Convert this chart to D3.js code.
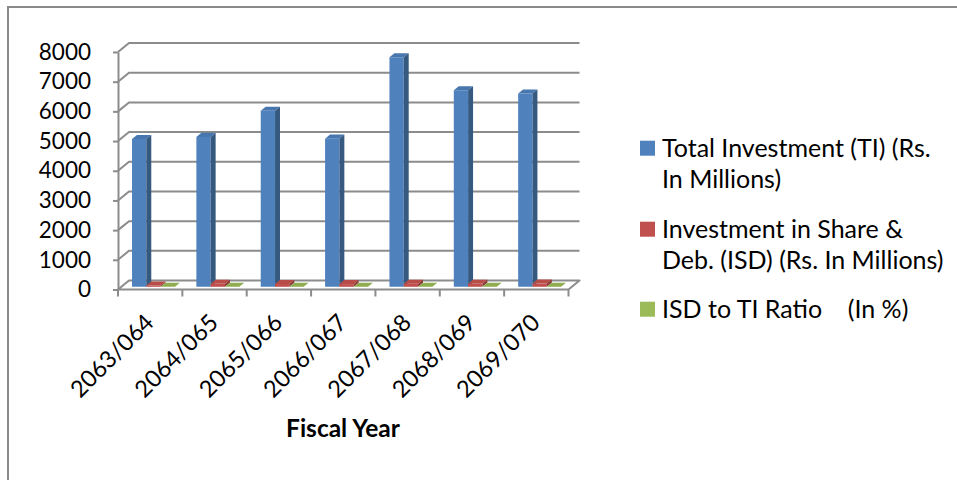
<!DOCTYPE html>
<html>
<head>
<meta charset="utf-8">
<script src="https://cdn.jsdelivr.net/npm/d3@7"></script>
<style>
  html, body { margin: 0; padding: 0; background: #fff; }
  svg { display: block; font-family: Lato, "Open Sans", sans-serif; }
</style>
</head>
<body>
<svg id="chart" width="957" height="480"></svg>
<script>
// Fiscal years (Nepali calendar)
const categories = ["2063/064", "2064/065", "2065/066", "2066/067", "2067/068", "2068/069", "2069/070"];
// Total Investment (TI), Rs. in millions
const totalInvestment = [4980, 5050, 5930, 4990, 7730, 6620, 6510];
// Investment in Share & Debenture (ISD), Rs. in millions
const shareDebInvestment = [45, 100, 95, 90, 105, 100, 110];
// ISD to TI ratio, in %
const isdToTiRatio = [0.9, 2.0, 1.6, 1.8, 1.4, 1.5, 1.7];
const yTickValues = [0, 1000, 2000, 3000, 4000, 5000, 6000, 7000, 8000];

const legendLines = [
  ["Total Investment (TI) (Rs.", "In Millions)"],
  ["Investment in Share &", "Deb. (ISD) (Rs. In Millions)"],
  ["ISD to TI Ratio    (In %)"]
];
const seriesValues = [totalInvestment, shareDebInvestment, isdToTiRatio];
const palette = [
  { front: "#4F81BD", top: "#4877B0", side: "#35597F" },
  { front: "#C0504D", top: "#B84C49", side: "#8A3936" },
  { front: "#9BBB59", top: "#8FAD51", side: "#6E8A3C" }
];

const svg = d3.select("#chart");
const gridColor = "#8c8c8c";

// outer frame (left and top edges)
svg.append("path")
  .attr("d", "M8,480 V7 H957")
  .attr("fill", "none")
  .attr("stroke", "#8a8a8a")
  .attr("stroke-width", 2);

// plot box on the front plane and depth offset towards the back wall
const plot = { left: 118, right: 568.5, bottom: 289.5, top: 52 };
const depth = { dx: 11, dy: -9 };

const x = d3.scaleBand().domain(categories).range([plot.left, plot.right]).padding(0);
const xs = d3.scaleBand().domain([0, 1, 2]).range([0, x.bandwidth()]).paddingInner(0).paddingOuter(0.75);
const y = d3.scaleLinear().domain([0, 8000]).range([plot.bottom, plot.top]);

// project (front-plane x, value, depth fraction) to screen
const P = (xf, v, d) => [xf + d * depth.dx, y(v) + d * depth.dy];
const poly = pts => "M" + pts.map(p => p.join(",")).join("L") + "Z";
const line = pts => "M" + pts.map(p => p.join(",")).join("L");

// back wall + side wall gridlines
const walls = svg.append("g");
walls.selectAll("path.grid")
  .data(yTickValues.filter(v => v > 0))
  .join("path")
  .attr("class", "grid")
  .attr("d", v => line([P(plot.left, v, 0), P(plot.left, v, 1), P(plot.right, v, 1)]))
  .attr("fill", "none")
  .attr("stroke", gridColor)
  .attr("stroke-width", 2);

// floor
walls.append("path")
  .attr("d", poly([P(plot.left, 0, 0), P(plot.right, 0, 0), P(plot.right, 0, 1), P(plot.left, 0, 1)]))
  .attr("fill", "#fff")
  .attr("stroke", gridColor)
  .attr("stroke-width", 2)
  .attr("stroke-linejoin", "round");

// 3D columns
const d0 = 0.3, d1 = 0.75;
const bars = svg.append("g");
categories.forEach((cat, i) => {
  seriesValues.forEach((vals, s) => {
    const v = vals[i];
    const x0 = x(cat) + xs(s);
    const x1 = x0 + xs.bandwidth();
    const g = bars.append("g");
    g.append("path")
      .attr("d", poly([P(x0, 0, d0), P(x0, v, d0), P(x1, v, d0), P(x1, 0, d0)]))
      .attr("fill", palette[s].front);
    g.append("path")
      .attr("d", poly([P(x0, v, d0), P(x1, v, d0), P(x1, v, d1), P(x0, v, d1)]))
      .attr("fill", palette[s].top);
    g.append("path")
      .attr("d", poly([P(x1, 0, d0), P(x1, v, d0), P(x1, v, d1), P(x1, 0, d1)]))
      .attr("fill", palette[s].side);
  });
});

// value axis on the front-left edge
const yAxis = svg.append("g")
  .attr("transform", `translate(${plot.left},0)`)
  .call(d3.axisLeft(y).tickValues(yTickValues).tickFormat(d3.format("d"))
    .tickSize(5).tickSizeOuter(0).tickPadding(22));
yAxis.select(".domain").attr("stroke", gridColor).attr("stroke-width", 2);
yAxis.selectAll(".tick line").attr("stroke", gridColor).attr("stroke-width", 2);
yAxis.selectAll(".tick text")
  .attr("font-size", 22.5)
  .attr("font-family", "Lato, 'Open Sans', sans-serif")
  .attr("fill", "#000");

// category axis: tick marks on band boundaries
const boundaries = d3.range(categories.length + 1).map(k => plot.left + k * x.step());
svg.append("g").selectAll("line")
  .data(boundaries)
  .join("line")
  .attr("x1", d => d).attr("x2", d => d)
  .attr("y1", plot.bottom).attr("y2", plot.bottom + 7)
  .attr("stroke", gridColor)
  .attr("stroke-width", 2);

svg.append("g").selectAll("text")
  .data(categories)
  .join("text")
  .attr("transform", d => `translate(${x(d) + x.bandwidth() / 2 + 5},${plot.bottom + 34.5}) rotate(-45)`)
  .attr("text-anchor", "end")
  .attr("font-size", 23.5)
  .attr("fill", "#000")
  .text(d => d);

svg.append("text")
  .attr("x", 343)
  .attr("y", 437)
  .attr("text-anchor", "middle")
  .attr("font-size", 24.5)
  .attr("font-weight", "bold")
  .attr("fill", "#000")
  .text("Fiscal Year");

// legend
const legendTop = [140.7, 221.7, 301.7];
const legend = svg.append("g");
legendLines.forEach((lines, s) => {
  legend.append("rect")
    .attr("x", 640).attr("y", legendTop[s])
    .attr("width", 15).attr("height", 15)
    .attr("fill", palette[s].front);
  const t = legend.append("text")
    .attr("x", 662)
    .attr("y", legendTop[s] + 16)
    .attr("font-size", 25)
    .attr("fill", "#000")
    .attr("xml:space", "preserve")
    .style("white-space", "pre");
  lines.forEach((ln, k) => {
    t.append("tspan").attr("x", 662).attr("dy", k === 0 ? 0 : 31.5).text(ln);
  });
});
</script>
</body>
</html>
